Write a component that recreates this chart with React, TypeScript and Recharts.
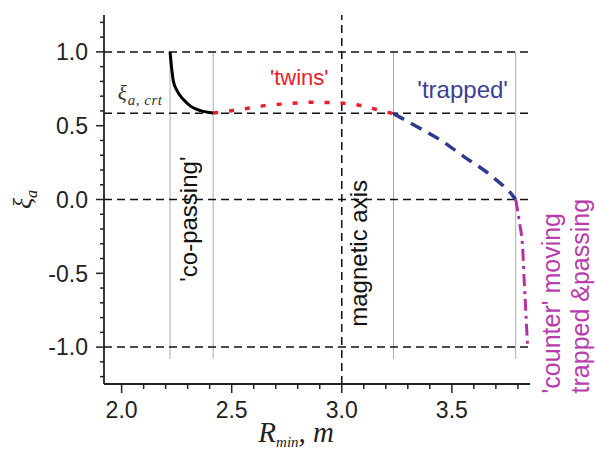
import { LineChart, Line, XAxis, YAxis, ReferenceLine, ReferenceDot } from 'recharts';

// co-passing branch (solid black)
const coPassingR = [2.22, 2.227, 2.235, 2.253, 2.281, 2.314, 2.359, 2.416];
const coPassingXi = [1.0, 0.893, 0.802, 0.734, 0.677, 0.631, 0.602, 0.586];

// 'twins' (red dots)
const twinsR = [2.416, 2.5, 2.58, 2.65, 2.73, 2.8, 2.87, 2.94, 3.02, 3.09, 3.16, 3.235];
const twinsXi = [0.586, 0.602, 0.62, 0.636, 0.647, 0.654, 0.659, 0.657, 0.65, 0.636, 0.609, 0.582];

// 'trapped' (blue dashes)
const trappedR = [3.235, 3.34, 3.445, 3.566, 3.656, 3.7, 3.747, 3.772, 3.79];
const trappedXi = [0.582, 0.495, 0.406, 0.279, 0.188, 0.135, 0.074, 0.035, 0.0];

// 'counter' moving trapped & passing (magenta dash-dot)
const counterR = [3.79, 3.807, 3.822, 3.829, 3.837, 3.844];
const counterXi = [0.0, -0.154, -0.336, -0.563, -0.788, -1.0];

const boundaryR = [2.22, 2.416, 3.235, 3.79];
const levelXi = [1.0, 0.585, 0.0, -1.0];
const magneticAxisR = 3.0;

const xTicks = [2.0, 2.1, 2.2, 2.3, 2.4, 2.5, 2.6, 2.7, 2.8, 2.9, 3.0, 3.1, 3.2, 3.3, 3.4, 3.5, 3.6, 3.7, 3.8];
const yTicks = [-1.2, -1.1, -1.0, -0.9, -0.8, -0.7, -0.6, -0.5, -0.4, -0.3, -0.2, -0.1, 0.0,
  0.1, 0.2, 0.3, 0.4, 0.5, 0.6, 0.7, 0.8, 0.9, 1.0, 1.1, 1.2];

const W = 596;
const H = 450;
const PLOT_LEFT = 104;
const PLOT_BOTTOM = 384;
const AXIS = '#222';
const SANS = "'Liberation Sans', Arial, sans-serif";
const SERIF = "'Liberation Serif', 'Times New Roman', serif";

const toRows = (r: number[], xi: number[]) => r.map((v, i) => ({ r: v, xi: xi[i] }));
const isMajor = (v: number) => Math.abs(v * 2 - Math.round(v * 2)) < 1e-6;

const renderYTick = (props: any) => {
  const { y, payload } = props;
  const v = payload.value as number;
  const major = isMajor(v);
  return (
    <g>
      <line x1={PLOT_LEFT - (major ? 8 : 4)} x2={PLOT_LEFT} y1={y} y2={y} stroke={AXIS} strokeWidth={1.5} />
      {major && (
        <text x={PLOT_LEFT - 16} y={y} dy="0.36em" textAnchor="end" fontFamily={SANS} fontSize={23} fill={AXIS}>
          {v.toFixed(1)}
        </text>
      )}
    </g>
  );
};

const renderXTick = (props: any) => {
  const { x, payload } = props;
  const v = payload.value as number;
  const major = isMajor(v);
  return (
    <g>
      <line x1={x} x2={x} y1={PLOT_BOTTOM} y2={PLOT_BOTTOM + (major ? 9 : 5)} stroke={AXIS} strokeWidth={1.5} />
      {major && (
        <text x={x} y={418} textAnchor="middle" fontFamily={SANS} fontSize={23} fill={AXIS}>
          {v.toFixed(1)}
        </text>
      )}
    </g>
  );
};

// text annotation placed at a data coordinate
const note = (text: string, color: string, opts: { rotate?: boolean; anchor?: string; size?: number } = {}) =>
  (p: any) => (
    <text
      x={p.cx}
      y={p.cy}
      fill={color}
      fontFamily={SANS}
      fontSize={opts.size ?? 24}
      textAnchor={opts.anchor ?? 'middle'}
      transform={opts.rotate ? `rotate(-90 ${p.cx} ${p.cy})` : undefined}
    >
      {text}
    </text>
  );

const critLabel = (p: any) => (
  <text x={p.cx} y={p.cy} fill="#333" fontFamily={SERIF} fontStyle="italic" fontSize={21}>
    ξ
    <tspan fontSize={15} dy={5} dx={1} letterSpacing={0.5}>a, crt</tspan>
  </text>
);

const yTitle = (p: any) => (
  <text
    x={p.cx}
    y={p.cy}
    fill={AXIS}
    fontFamily={SERIF}
    fontStyle="italic"
    fontSize={26}
    textAnchor="middle"
    transform={`rotate(-90 ${p.cx} ${p.cy})`}
  >
    ξ<tspan fontSize={16} dy={6}>a</tspan>
  </text>
);

const xTitle = (p: any) => (
  <text x={p.cx} y={p.cy} fill={AXIS} fontFamily={SERIF} fontStyle="italic" fontSize={29}>
    R
    <tspan fontSize={15} dy={5}>min</tspan>
    <tspan fontSize={29} dy={-5}>, m</tspan>
  </text>
);

export default function App() {
  return (
    <div style={{ position: 'absolute', left: 0, top: 0, width: W, height: H, background: '#fff' }}>
      <LineChart width={W} height={H} margin={{ top: 15, right: 66, bottom: 0, left: 0 }}>
        <XAxis
          type="number"
          dataKey="r"
          domain={[1.92, 3.855]}
          allowDataOverflow
          ticks={xTicks}
          interval={0}
          height={66}
          tickLine={false}
          tick={renderXTick}
          axisLine={{ stroke: AXIS, strokeWidth: 1.8 }}
        />
        <YAxis
          type="number"
          dataKey="xi"
          domain={[-1.25, 1.25]}
          allowDataOverflow
          ticks={yTicks}
          interval={0}
          width={104}
          tickLine={false}
          tick={renderYTick}
          axisLine={{ stroke: AXIS, strokeWidth: 1.8 }}
        />

        {boundaryR.map((r) => (
          <ReferenceLine
            key={`b-${r}`}
            segment={[{ x: r, y: 1.0 }, { x: r, y: -1.08 }]}
            stroke="#b0a9a9"
            strokeWidth={1}
          />
        ))}
        {levelXi.map((v) => (
          <ReferenceLine key={`h-${v}`} y={v} stroke="#111" strokeWidth={1.5} strokeDasharray="8 5" />
        ))}
        <ReferenceLine x={magneticAxisR} stroke="#111" strokeWidth={1.5} strokeDasharray="8 5" />

        <Line
          data={toRows(coPassingR, coPassingXi)}
          dataKey="xi"
          type="monotone"
          stroke="#000"
          strokeWidth={3}
          dot={false}
          activeDot={false}
          isAnimationActive={false}
        />
        <Line
          data={toRows(twinsR, twinsXi)}
          dataKey="xi"
          type="monotone"
          stroke="#e8202a"
          strokeWidth={3.5}
          strokeDasharray="5 11"
          dot={false}
          activeDot={false}
          isAnimationActive={false}
        />
        <Line
          data={toRows(trappedR, trappedXi)}
          dataKey="xi"
          type="monotone"
          stroke="#2f3a8f"
          strokeWidth={3.5}
          strokeDasharray="12 8"
          dot={false}
          activeDot={false}
          isAnimationActive={false}
        />
        <Line
          data={toRows(counterR, counterXi)}
          dataKey="xi"
          type="monotone"
          stroke="#b4329f"
          strokeWidth={3}
          strokeDasharray="12 5 3 5"
          dot={false}
          activeDot={false}
          isAnimationActive={false}
        />

        <ReferenceDot x={1.983} y={0.672} ifOverflow="visible" shape={critLabel} />
        <ReferenceDot x={2.807} y={0.775} ifOverflow="visible" shape={note("'twins'", '#e8202a', { size: 22 })} />
        <ReferenceDot x={3.549} y={0.686} ifOverflow="visible" shape={note("'trapped'", '#3b3f96')} />
        <ReferenceDot x={2.341} y={-0.133} ifOverflow="visible" shape={note("'co-passing'", '#111', { rotate: true })} />
        <ReferenceDot x={3.114} y={-0.365} ifOverflow="visible" shape={note('magnetic axis', '#111', { rotate: true })} />
        <ReferenceDot
          x={3.992}
          y={-1.314}
          ifOverflow="visible"
          shape={note("'counter' moving", '#b83cad', { rotate: true, anchor: 'start', size: 25 })}
        />
        <ReferenceDot
          x={4.122}
          y={-1.314}
          ifOverflow="visible"
          shape={note('trapped &passing', '#b83cad', { rotate: true, anchor: 'start', size: 25 })}
        />
        <ReferenceDot x={1.59} y={0.0} ifOverflow="visible" shape={yTitle} />
        <ReferenceDot x={2.621} y={-1.64} ifOverflow="visible" shape={xTitle} />
      </LineChart>
    </div>
  );
}
